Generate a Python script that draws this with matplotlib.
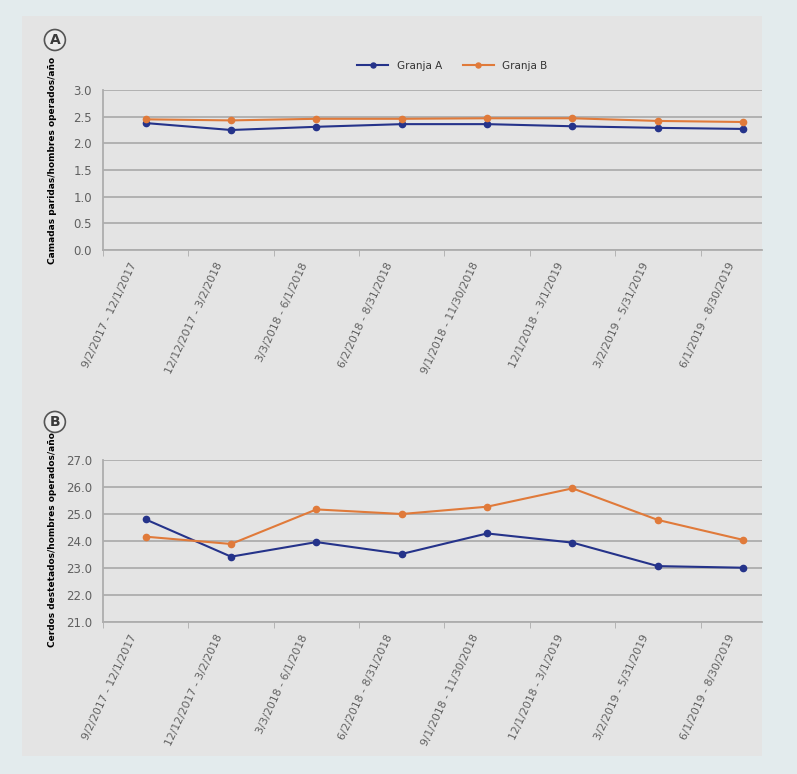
import numpy as np
import matplotlib.pyplot as plt
import matplotlib.transforms as mtransforms
from matplotlib.patches import Rectangle

periodos = ['9/2/2017 - 12/1/2017', '12/12/2017 - 3/2/2018', '3/3/2018 - 6/1/2018',
            '6/2/2018 - 8/31/2018', '9/1/2018 - 11/30/2018', '12/1/2018 - 3/1/2019',
            '3/2/2019 - 5/31/2019', '6/1/2019 - 8/30/2019']

camadas_a = [2.38, 2.25, 2.31, 2.36, 2.36, 2.32, 2.29, 2.27]
camadas_b = [2.45, 2.43, 2.46, 2.46, 2.47, 2.47, 2.42, 2.40]

cerdos_a = [24.80, 23.42, 23.96, 23.52, 24.28, 23.94, 23.07, 23.01]
cerdos_b = [24.16, 23.89, 25.17, 25.00, 25.27, 25.95, 24.78, 24.04]

azul = '#25338a'
naranja = '#e07a3a'
gris = '#adadad'
fondo = '#e4e4e4'

fig = plt.figure(figsize=(7.97, 7.74), dpi=100)
fig.patch.set_facecolor('#e3ebed')
fig.add_artist(Rectangle((22/797, 1-756/774), 740/797, 740/774,
                         transform=fig.transFigure, facecolor=fondo,
                         edgecolor='none', zorder=-10))

x = np.arange(len(periodos))


def panel(rect, ya, yb, ylim, step, ylabel, letra, letra_y, label_y, leyenda=False):
    ax = fig.add_axes(rect)
    ax.set_facecolor(fondo)
    ax.plot(x, ya, color=azul, marker='o', markersize=4.5, linewidth=1.5, label='Granja A')
    ax.plot(x, yb, color=naranja, marker='o', markersize=4.5, linewidth=1.5, label='Granja B')
    ax.set_xlim(-0.5, 7.22)
    ax.set_ylim(*ylim)
    ax.set_yticks(np.arange(ylim[0], ylim[1] + step / 2, step))
    ax.yaxis.set_major_formatter(plt.FormatStrFormatter('%.1f'))
    ax.grid(axis='y', color=gris, linewidth=1.3)
    ax.set_axisbelow(True)
    for s in ['top', 'right']:
        ax.spines[s].set_visible(False)
    for s in ['left', 'bottom']:
        ax.spines[s].set_color(gris)
        ax.spines[s].set_linewidth(1.3)
    ax.set_xticks(x)
    ax.set_xticks(np.arange(-0.5, 7.5, 1), minor=True)
    ax.tick_params(axis='x', length=0, pad=8)
    ax.tick_params(axis='x', which='minor', length=4, color=gris)
    ax.tick_params(axis='y', length=0, labelsize=8.5, labelcolor='#606060', pad=8)
    ax.set_xticklabels(periodos, rotation=65, ha='right', rotation_mode='anchor',
                       fontsize=7.8, color='#606060')
    desplazar = mtransforms.ScaledTranslation(-16/100, 0, fig.dpi_scale_trans)
    for lab in ax.get_xticklabels():
        lab.set_transform(lab.get_transform() + desplazar)
    ax.set_ylabel(ylabel, fontsize=6.5, fontweight='bold')
    ax.yaxis.set_label_coords(-0.07, label_y)
    ax.text(-0.073, letra_y, letra, transform=ax.transAxes,
            ha='center', va='center', fontsize=10, fontweight='bold', color='#3a3a3a',
            bbox=dict(boxstyle='circle,pad=0.25', facecolor='#ececec', edgecolor='#555555',
                      linewidth=1.2))
    if leyenda:
        ax.legend(loc='center', bbox_to_anchor=(0.53, 1.15), ncol=2, frameon=False,
                  fontsize=7.5, handlelength=3, columnspacing=2, markerscale=0.8,
                  labelcolor='#333333')
    return ax


panel([103/797, 1-250/774, 659/797, 160/774], camadas_a, camadas_b, (0, 3.0), 0.5,
      'Camadas paridas/hombres operados/año', 'A', 1.3125, 0.56, leyenda=True)
panel([103/797, 1-622/774, 659/797, 162/774], cerdos_a, cerdos_b, (21.0, 27.0), 1.0,
      'Cerdos destetados/hombres operados/año', 'B', 1.235, 0.51)

fig.savefig('out.png', dpi=100)
